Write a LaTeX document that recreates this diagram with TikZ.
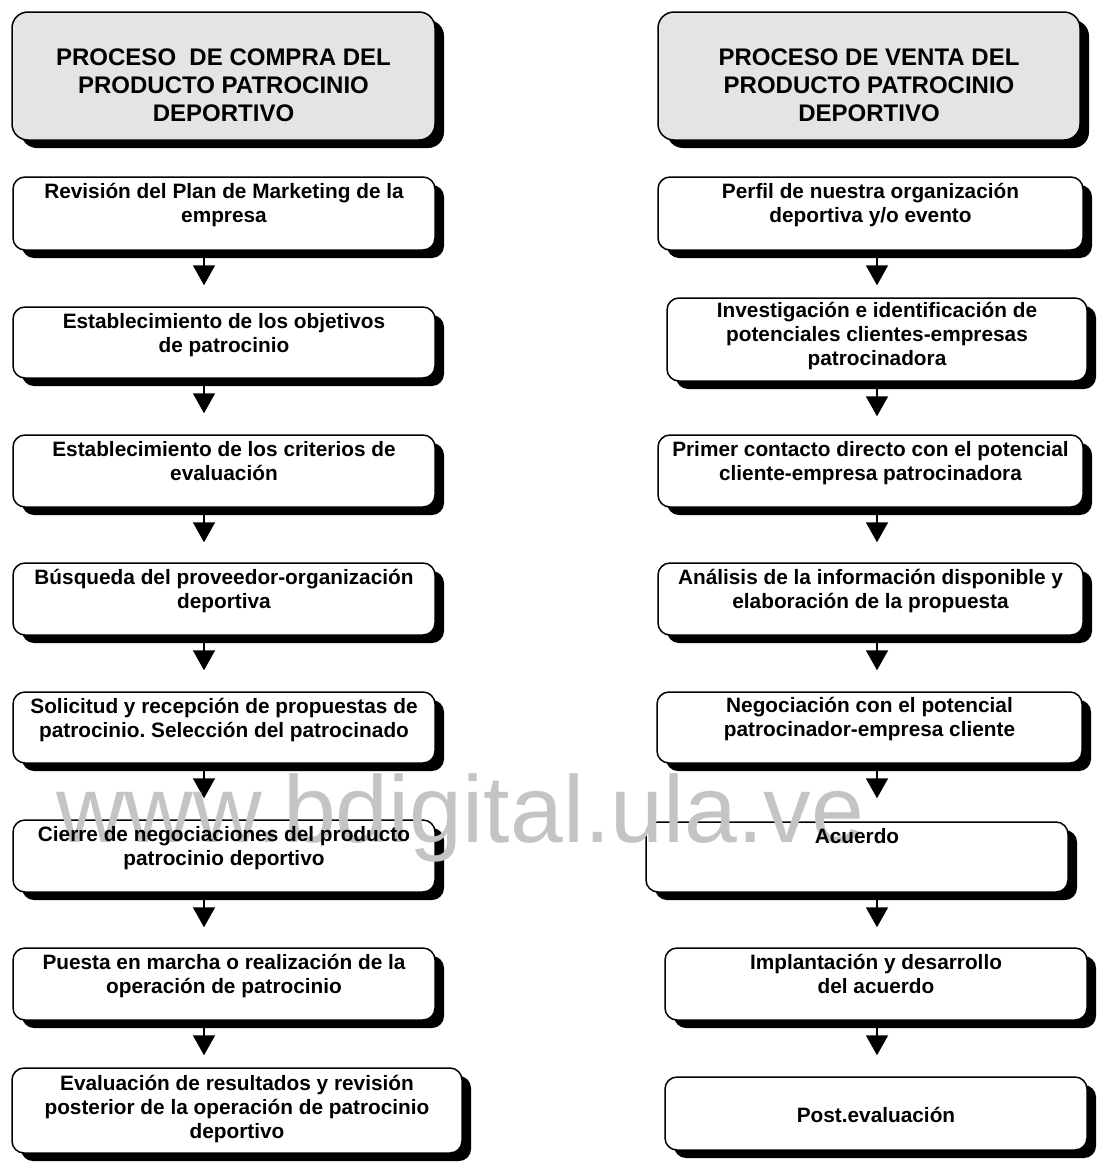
\documentclass[tikz,border=0pt]{standalone}
\usepackage{fontspec}
\setmainfont{Liberation Sans}
\newfontfamily\wmfont{Liberation Sans}
\usetikzlibrary{shadows,arrows.meta}
\definecolor{headgray}{RGB}{228,228,228}
\definecolor{wmgray}{RGB}{196,196,196}
\frenchspacing
\tikzset{
  box/.style={draw=black, line width=1.5pt, rounded corners=12pt, fill=white,
    drop shadow={shadow xshift=9pt, shadow yshift=-8pt, fill=black, opacity=1},
    inner sep=0pt},
  hbox/.style={box, fill=headgray, rounded corners=16pt},
  txt/.style={align=center, inner sep=0pt, font=\bfseries\fontsize{20.8pt}{24pt}\selectfont},
  htxt/.style={align=center, inner sep=0pt, font=\bfseries\fontsize{24pt}{28pt}\selectfont},
  arr/.style={line width=2pt, -{Triangle[width=22pt,length=20pt]}},
  wm/.style={inner sep=0pt, text=wmgray, font=\wmfont\fontsize{95pt}{110pt}\selectfont}
}
\newcommand\mkbox[6]{\node[#1, minimum width={#4-#2}, minimum height={#5-#3}] (#6) at ({(#2+#4)/2},{(#3+#5)/2}) {};}
\newcommand\st{\rule{0pt}{17pt}}
\newcommand\hst{\rule{0pt}{19pt}}
\begin{document}
\begin{tikzpicture}[x=1pt,y=-1pt]
\useasboundingbox (0,0) rectangle (1097,1162);
\coordinate (lx) at (204,0);
\coordinate (rx) at (877,0);
% left column
\mkbox{hbox}{12}{12}{435}{140}{LH}
\mkbox{box}{13}{177}{435}{250}{L1}
\mkbox{box}{13}{307}{435}{378}{L2}
\mkbox{box}{13}{435}{435}{507}{L3}
\mkbox{box}{13}{563}{435}{635}{L4}
\mkbox{box}{13}{692}{435}{763}{L5}
\mkbox{box}{13}{820}{435}{892}{L6}
\mkbox{box}{13}{948}{435}{1020}{L7}
\mkbox{box}{12}{1068}{462}{1153}{L8}
% right column
\mkbox{hbox}{658}{12}{1080}{140}{RH}
\mkbox{box}{658}{177}{1083}{250}{R1}
\mkbox{box}{667}{298}{1087}{381}{R2}
\mkbox{box}{658}{435}{1083}{507}{R3}
\mkbox{box}{658}{563}{1083}{635}{R4}
\mkbox{box}{657}{692}{1082}{763}{R5}
\mkbox{box}{646}{822}{1068}{892}{R6}
\mkbox{box}{665}{948}{1087}{1020}{R7}
\mkbox{box}{665}{1077}{1087}{1150}{R8}
% arrows
\draw[arr, shorten >=21pt] (L1.south -| lx) -- (L2.north -| lx);
\draw[arr, shorten >=21pt] (L2.south -| lx) -- (L3.north -| lx);
\draw[arr, shorten >=20pt] (L3.south -| lx) -- (L4.north -| lx);
\draw[arr, shorten >=21pt] (L4.south -| lx) -- (L5.north -| lx);
\draw[arr, shorten >=21pt] (L5.south -| lx) -- (L6.north -| lx);
\draw[arr, shorten >=20pt] (L6.south -| lx) -- (L7.north -| lx);
\draw[arr, shorten >=12pt] (L7.south -| lx) -- (L8.north -| lx);
\draw[arr, shorten >=12pt] (R1.south -| rx) -- (R2.north -| rx);
\draw[arr, shorten >=18pt] (R2.south -| rx) -- (R3.north -| rx);
\draw[arr, shorten >=20pt] (R3.south -| rx) -- (R4.north -| rx);
\draw[arr, shorten >=21pt] (R4.south -| rx) -- (R5.north -| rx);
\draw[arr, shorten >=23pt] (R5.south -| rx) -- (R6.north -| rx);
\draw[arr, shorten >=20pt] (R6.south -| rx) -- (R7.north -| rx);
\draw[arr, shorten >=21pt] (R7.south -| rx) -- (R8.north -| rx);
% watermark (behind the texts)
\node[wm, anchor=base west] (wmark) at (56,842) {www.bdigital.ula.ve};
% texts
\node[htxt, anchor=north] (LHt) at ([yshift=-35pt]LH.north) {\hst PROCESO\ \ DE COMPRA DEL\\PRODUCTO PATROCINIO\\DEPORTIVO};
\node[htxt, anchor=north] (RHt) at ([yshift=-35pt]RH.north) {\hst PROCESO DE VENTA DEL\\PRODUCTO PATROCINIO\\DEPORTIVO};
\node[txt, anchor=north] (L1t) at ([yshift=-5.5pt]L1.north) {\st Revisión del Plan de Marketing de la\\empresa};
\node[txt, anchor=north] (L2t) at ([yshift=-5.5pt]L2.north) {\st Establecimiento de los objetivos\\de patrocinio};
\node[txt, anchor=north] (L3t) at ([yshift=-5.5pt]L3.north) {\st Establecimiento de los criterios de\\evaluación};
\node[txt, anchor=north] (L4t) at ([yshift=-5.5pt]L4.north) {\st Búsqueda del proveedor-organización\\deportiva};
\node[txt, anchor=north] (L5t) at ([yshift=-5.5pt]L5.north) {\st Solicitud y recepción de propuestas de\\patrocinio. Selección del patrocinado};
\node[txt, anchor=north] (L6t) at ([yshift=-5.5pt]L6.north) {\st Cierre de negociaciones del producto\\patrocinio deportivo};
\node[txt, anchor=north] (L7t) at ([yshift=-5.5pt]L7.north) {\st Puesta en marcha o realización de la\\operación de patrocinio};
\node[txt, anchor=north] (L8t) at ([yshift=-6.5pt]L8.north) {\st Evaluación de resultados y revisión\\posterior de la operación de patrocinio\\deportivo};
\node[txt, anchor=north] (R1t) at ([yshift=-5.5pt]R1.north) {\st Perfil de nuestra organización\\deportiva y/o evento};
\node[txt, anchor=north] (R2t) at ([yshift=-3pt]R2.north) {\st Investigación e identificación de\\potenciales clientes-empresas\\patrocinadora};
\node[txt, anchor=north] (R3t) at ([yshift=-5.5pt]R3.north) {\st Primer contacto directo con el potencial\\cliente-empresa patrocinadora};
\node[txt, anchor=north] (R4t) at ([yshift=-5.5pt]R4.north) {\st Análisis de la información disponible y\\elaboración de la propuesta};
\node[txt, anchor=north] (R5t) at ([yshift=-4.5pt]R5.north) {\st Negociación con el potencial\\patrocinador-empresa cliente};
\node[txt, anchor=north] (R6t) at ([yshift=-5pt]R6.north) {\st Acuerdo};
\node[txt, anchor=north] (R7t) at ([yshift=-5.5pt]R7.north) {\st Implantación y desarrollo\\del acuerdo};
\node[txt] (R8t) at ([yshift=-1pt]R8.center) {Post.evaluación};
\end{tikzpicture}
\end{document}
